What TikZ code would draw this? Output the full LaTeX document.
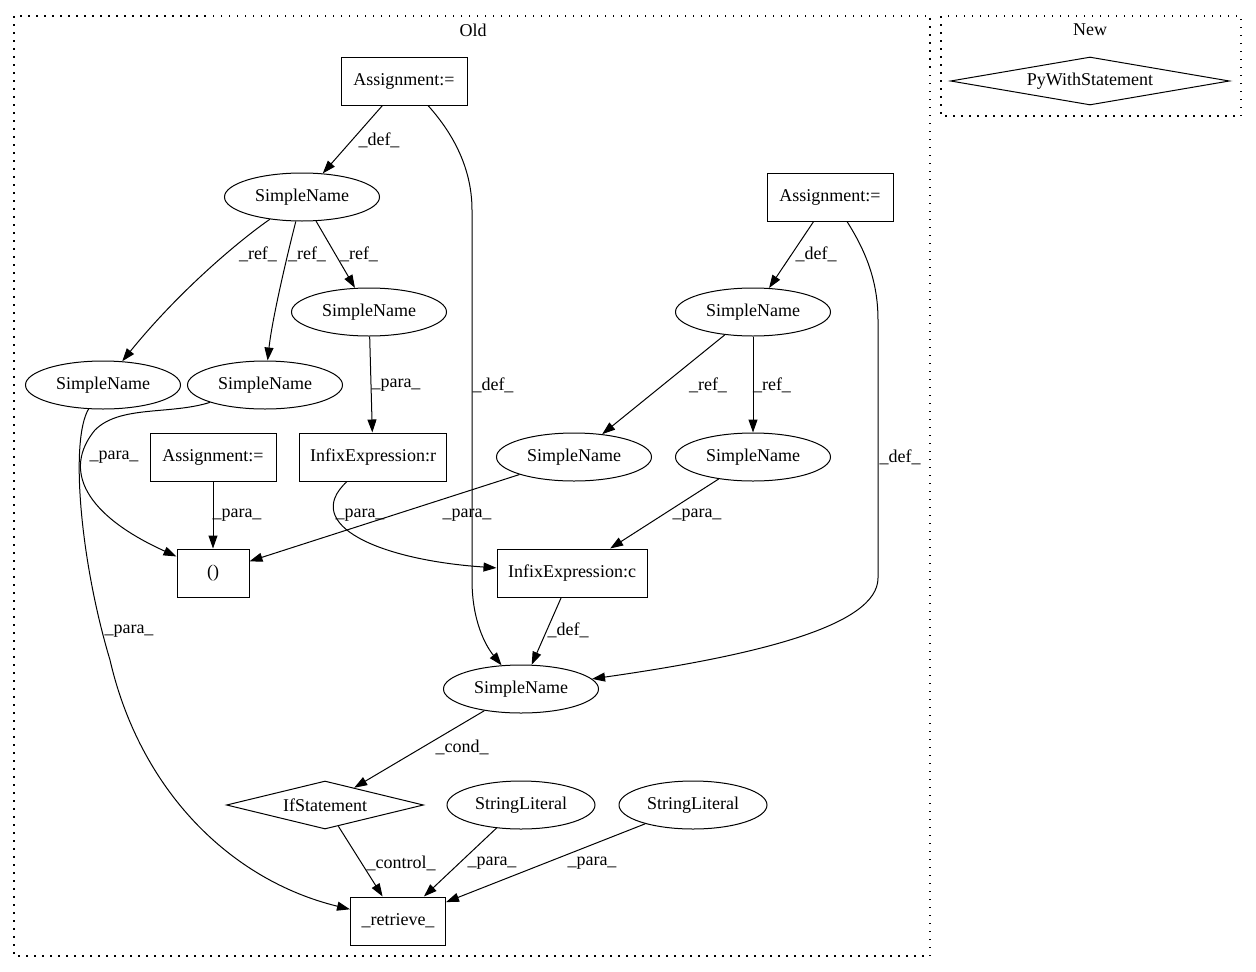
\documentclass[tikz,border=0pt]{standalone}
\usepackage{fontspec}
\setmainfont{Liberation Serif}
\usetikzlibrary{shapes.geometric,arrows.meta,positioning}

\begin{document}
\begin{tikzpicture}[x=1pt, y=-1pt,
  every node/.style={font=\fontsize{18}{21}\selectfont},
  box/.style={draw, rectangle, line width=1pt, minimum height=48pt, inner sep=0pt},
  sname/.style={draw, ellipse, line width=1pt, minimum width=155pt, minimum height=48pt, inner sep=0pt},
  cond/.style={draw, diamond, aspect=6, line width=1pt, minimum height=48pt, inner sep=0pt},
  edge/.style={line width=1pt, -{Triangle[length=13pt, width=9pt]}},
  lbl/.style={inner sep=0pt},
  cluster/.style={line width=1.2pt, dash pattern=on 1.5pt off 6.5pt}]
\useasboundingbox (0,0) rectangle (1256,972);

% Old
\draw[cluster] (14,16) rectangle (930,956);
\node (oldTitle) at (473,30) {Old};
% New
\draw[cluster] (941,16) rectangle (1241,116);
\node (newTitle) at (1090,30) {New};
\node[cond, minimum width=279pt] (pyWith) at (1090,81) {PyWithStatement};

% Assignment
\node[box, minimum width=126pt] (assignA) at (404,81) {Assignment:=};
\node[box, minimum width=126pt] (assignB) at (830,197) {Assignment:=};
\node[box, minimum width=126pt] (assignC) at (213,457) {Assignment:=};

% SimpleName
\node[sname] (nameA) at (302,197) {SimpleName};
\node[sname] (nameC) at (369,312) {SimpleName};
\node[sname] (nameE) at (103,385) {SimpleName};
\node[sname] (nameF) at (265,385) {SimpleName};
\node[sname] (nameG) at (574,457) {SimpleName};
\node[sname] (nameD) at (753,312) {SimpleName};
\node[sname] (nameH) at (753,457) {SimpleName};
\node[sname] (nameB) at (521,689) {SimpleName};

% InfixExpression
\node[box, minimum width=147pt] (infixR) at (373,457) {InfixExpression:r};
\node[box, minimum width=150pt] (infixC) at (572,573) {InfixExpression:c};
\node[box, minimum width=72pt] (call) at (213,573) {()};

% IfStatement
\node[cond, minimum width=197pt] (ifStmt) at (325,805) {IfStatement};
\node[sname, minimum width=148pt] (strA) at (521,805) {StringLiteral};
\node[sname, minimum width=148pt] (strB) at (693,805) {StringLiteral};
\node[box, minimum width=95pt] (retrieve) at (398,921) {\_retrieve\_};

% edges
\draw[edge] (assignA) -- (nameA) node[lbl] at (379,140) {\_def\_};
\draw[edge] ([xshift=24pt]assignA.south) .. controls (450,130) and (472,165) .. (472,210) -- (472,580) .. controls (472,620) and (485,645) .. (nameB) node[lbl] at (493,385) {\_def\_};
\draw[edge] (nameA) .. controls (240,240) and (180,290) .. (nameE) node[lbl] at (258,254) {\_ref\_};
\draw[edge] (nameA) .. controls (286,260) and (272,320) .. (nameF) node[lbl] at (307,254) {\_ref\_};
\draw[edge] (nameA) -- (nameC) node[lbl] at (359,254) {\_ref\_};
\draw[edge] (nameC) -- (infixR) node[lbl] at (396,385) {\_para\_};
\draw[edge] (nameE) .. controls (70,440) and (80,560) .. (110,660) .. controls (140,790) and (230,880) .. (retrieve) node[lbl] at (129,631) {\_para\_};
\draw[edge] (nameF) .. controls (170,415) and (120,405) .. (95,430) .. controls (62,470) and (85,515) .. (call) node[lbl] at (114,457) {\_para\_};
\draw[edge] (assignC) -- (call) node[lbl] at (237,515) {\_para\_};
\draw[edge] ([xshift=-26pt]infixR.south) .. controls (300,525) and (380,560) .. (infixC) node[lbl] at (360,515) {\_para\_};
\draw[edge] (nameG) -- (call) node[lbl] at (467,515) {\_para\_};
\draw[edge] (assignB) -- (nameD) node[lbl] at (816,254) {\_def\_};
\draw[edge] ([xshift=17pt]assignB.south) .. controls (865,250) and (878,280) .. (878,320) -- (878,578) .. controls (878,625) and (760,655) .. (nameB) node[lbl] at (900,457) {\_def\_};
\draw[edge] (nameD) -- (nameG) node[lbl] at (708,385) {\_ref\_};
\draw[edge] (nameD) -- (nameH) node[lbl] at (772,385) {\_ref\_};
\draw[edge] (nameH) -- (infixC) node[lbl] at (697,515) {\_para\_};
\draw[edge] (infixC) -- (nameB) node[lbl] at (568,630) {\_def\_};
\draw[edge] (nameB) -- (ifStmt) node[lbl] at (462,747) {\_cond\_};
\draw[edge] (ifStmt) -- (retrieve) node[lbl] at (401,863) {\_control\_};
\draw[edge] (strA) -- (retrieve) node[lbl] at (492,863) {\_para\_};
\draw[edge] (strB) -- (retrieve) node[lbl] at (592,863) {\_para\_};
\end{tikzpicture}
\end{document}
